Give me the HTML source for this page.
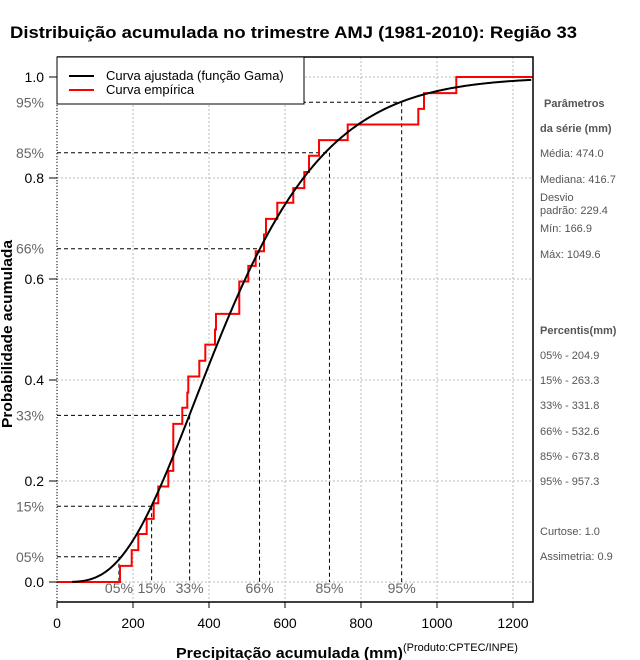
<!DOCTYPE html>
<html><head><meta charset="utf-8"><style>
body{margin:0;background:#fff;}
svg{display:block;font-family:"Liberation Sans",sans-serif;}
</style></head><body>
<svg id="chart" width="640" height="660" viewBox="0 0 640 660" xmlns="http://www.w3.org/2000/svg">
<rect width="640" height="660" fill="#fff"/>
<text x="10" y="38" font-size="17" font-weight="bold" textLength="567" lengthAdjust="spacingAndGlyphs">Distribuição acumulada no trimestre AMJ (1981-2010): Região 33</text>
<g id="grid"></g>
<g id="quant"></g>
<g id="series"></g>
<g id="axes"></g>
<text x="176" y="658" font-size="15" font-weight="bold" textLength="227" lengthAdjust="spacingAndGlyphs">Precipitação acumulada (mm)</text>
<text x="403" y="651" font-size="11">(Produto:CPTEC/INPE)</text>
<text transform="translate(12,334) rotate(-90)" text-anchor="middle" font-size="15" font-weight="bold" textLength="188" lengthAdjust="spacingAndGlyphs">Probabilidade acumulada</text>
<g>
<rect x="57" y="57" width="247" height="47" fill="#fff" stroke="#000" stroke-width="1"/>
<line x1="69" y1="76" x2="94" y2="76" stroke="#000" stroke-width="2"/>
<text x="106" y="80" font-size="13">Curva ajustada (função Gama)</text>
<line x1="69" y1="90" x2="94" y2="90" stroke="#f00" stroke-width="2"/>
<text x="106" y="94" font-size="13">Curva empírica</text>
</g>
<g font-size="11" fill="#555">
<text x="544" y="107" font-weight="bold">Parâmetros</text>
<text x="540" y="132" font-weight="bold">da série (mm)</text>
<text x="540" y="157">Média: 474.0</text>
<text x="540" y="183">Mediana: 416.7</text>
<text x="540" y="201">Desvio</text>
<text x="540" y="214">padrão: 229.4</text>
<text x="540" y="232">Mín: 166.9</text>
<text x="540" y="258">Máx: 1049.6</text>
<text x="540" y="334" font-weight="bold">Percentis(mm)</text>
<text x="540" y="359">05% - 204.9</text>
<text x="540" y="384">15% - 263.3</text>
<text x="540" y="409">33% - 331.8</text>
<text x="540" y="435">66% - 532.6</text>
<text x="540" y="460">85% - 673.8</text>
<text x="540" y="485">95% - 957.3</text>
<text x="540" y="535">Curtose: 1.0</text>
<text x="540" y="560">Assimetria: 0.9</text>
</g>
</svg>
<script>
const xTicks=[0,200,400,600,800,1000,1200];
const yTicks=[0,0.2,0.4,0.6,0.8,1.0];
const yTickLabels=["0.0","0.2","0.4","0.6","0.8","1.0"];
const empX=[165.8,196.6,214,236,254.5,266.6,292.9,306,329.7,342.9,345.5,374.5,390.3,415.8,418.4,479.7,503.4,522.9,544.7,550,579.7,621.8,650.8,663.2,689.5,765,950.8,965.8,1050.8];
const empP=[0.032,0.063,0.095,0.125,0.156,0.189,0.220,0.313,0.345,0.375,0.407,0.438,0.470,0.500,0.531,0.595,0.626,0.655,0.688,0.719,0.751,0.780,0.812,0.844,0.875,0.906,0.937,0.968,1.0];
const gammaShape=[4.27];
const gammaScale=[111.0];
const qProb=[0.05,0.15,0.33,0.66,0.85,0.95];
const qX=[163,249,349,533,717,907];
const qLabels=["05%","15%","33%","66%","85%","95%"];

const NS="http://www.w3.org/2000/svg";
const X0=57,X1=533,Y0=602,Y1=57;
const sx=v=>57+v*0.38;
const sy=p=>582-p*505;
function mk(tag,attrs,parent,txt){const e=document.createElementNS(NS,tag);for(const k in attrs)e.setAttribute(k,attrs[k]);if(txt!==undefined)e.textContent=txt;parent.appendChild(e);return e;}
function lgamma(z){const c=[76.18009172947146,-86.50532032941677,24.01409824083091,-1.231739572450155,0.1208650973866179e-2,-0.5395239384953e-5];let x=z,y=z,t=x+5.5;t-=(x+0.5)*Math.log(t);let s=1.000000000190015;for(let j=0;j<6;j++)s+=c[j]/++y;return -t+Math.log(2.5066282746310005*s/x);}
function gcdf(x,k,th){if(x<=0)return 0;const z=x/th;if(z>k+1){let b=z+1-k,c=1e30,d=1/b,h=d;for(let i=1;i<200;i++){const an=-i*(i-k);b+=2;d=an*d+b;d=1/d;c=b+an/c;const del=d*c;h*=del;if(Math.abs(del-1)<1e-10)break;}return 1-Math.exp(-z+k*Math.log(z)-lgamma(k))*h;}let ap=k,sum=1/k,del=sum;for(let n=0;n<300;n++){ap++;del*=z/ap;sum+=del;if(Math.abs(del)<Math.abs(sum)*1e-10)break;}return sum*Math.exp(-z+k*Math.log(z)-lgamma(k));}

const grid=document.getElementById('grid'),axes=document.getElementById('axes'),series=document.getElementById('series'),quant=document.getElementById('quant');
xTicks.forEach(v=>{
 const l=mk('line',{x1:sx(v),x2:sx(v),y1:Y1,y2:Y0,stroke:'#bbb','stroke-dasharray':'2,2'},grid);
 
 
 const t=mk('line',{x1:sx(v),x2:sx(v),y1:Y0,y2:Y0+6,stroke:'#000'},axes);
 
 
 const tx=mk('text',{x:sx(v),y:Y0+26,'text-anchor':'middle','font-size':'14'},axes,String(v));
 
 
});
yTicks.forEach((v,i)=>{
 const l=mk('line',{x1:X0,x2:X1,y1:sy(v),y2:sy(v),stroke:'#bbb','stroke-dasharray':'2,2'},grid);
 
 
 const t=mk('line',{x1:X0-8,x2:X0,y1:sy(v),y2:sy(v),stroke:'#000'},axes);
 
 
 const tx=mk('text',{x:44,y:sy(v)+5,'text-anchor':'end','font-size':'14'},axes,yTickLabels[i]);
 
 
});
const bx=mk('path',{d:`M${X0},${Y0}H${X1}V${Y1}H${X0}`,fill:'none',stroke:'#000','stroke-width':'1.5'},axes);


const ly=mk('line',{x1:X0,x2:X0,y1:Y1,y2:Y0,stroke:'#000','stroke-dasharray':'1,2'},axes);


qProb.forEach((p,i)=>{
 const x=sx(qX[i]),y=sy(p);
 const h=mk('line',{x1:X0,x2:x,y1:y,y2:y,stroke:'#000','stroke-dasharray':'4,3'},quant);
 
 
 const v=mk('line',{x1:x,x2:x,y1:y,y2:sy(0),stroke:'#000','stroke-dasharray':'4,3'},quant);
 
 
 const lb=mk('text',{x:44,y:y+5,'text-anchor':'end','font-size':'14',fill:'#666'},quant,qLabels[i]);
 
 
 const bl=mk('text',{x:x,y:593,'text-anchor':'middle','font-size':'14',fill:'#666'},quant,qLabels[i]);
 
 
});
let d=`M${X0},${sy(0)}`;
empX.forEach((x,i)=>{d+=`H${sx(x)}V${sy(empP[i])}`;});
d+=`H${X1}`;
const emp=mk('path',{d:d,fill:'none',stroke:'#f00','stroke-width':'2'},series);


let gd='';
for(let v=40;v<=1250;v+=4){const p=gcdf(v,gammaShape[0],gammaScale[0]);gd+=(gd?'L':'M')+sx(v).toFixed(2)+','+sy(p).toFixed(2);}
const gc=mk('path',{d:gd,fill:'none',stroke:'#000','stroke-width':'2'},series);


</script>
</body></html>
